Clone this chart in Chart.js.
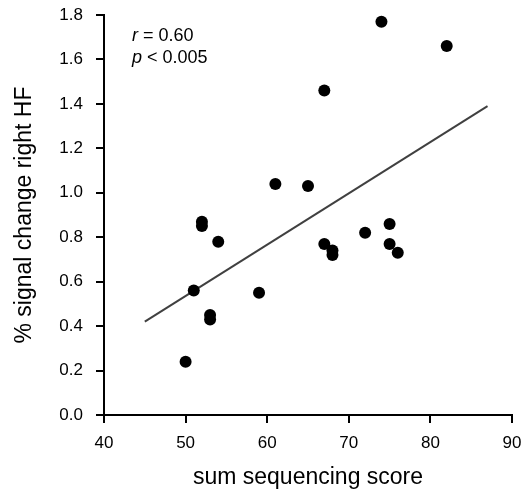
<!DOCTYPE html>
<html>
<head>
<meta charset="utf-8">
<script src="https://cdn.jsdelivr.net/npm/chart.js@4"></script>
<style>
  html, body { margin: 0; padding: 0; background: #fff; }
  #wrap { width: 525px; height: 492px; }
</style>
</head>
<body>
<div id="wrap"><canvas id="c" width="525" height="492"></canvas></div>
<script>
// Data
const sequencingScore = [50, 51, 52, 52, 53, 53, 54, 59, 61, 65, 67, 67, 68, 68, 72, 74, 75, 75, 76, 82];
const signalChange    = [0.24, 0.56, 0.87, 0.85, 0.45, 0.43, 0.78, 0.55, 1.04, 1.03, 1.46, 0.77, 0.74, 0.72, 0.82, 1.77, 0.86, 0.77, 0.73, 1.66];
const fitLineX = [45, 87];
const fitLineY = [0.42, 1.39];
const xTickValues = [40, 50, 60, 70, 80, 90];
const yTickValues = [0.0, 0.2, 0.4, 0.6, 0.8, 1.0, 1.2, 1.4, 1.6, 1.8];
const statLabels = [['r', ' = 0.60'], ['p', ' < 0.005']];
const xTitle = 'sum sequencing score';
const yTitle = '% signal change right HF';

const FONT = "'Liberation Sans', Arial, Helvetica, sans-serif";
Chart.defaults.font.family = FONT;
Chart.defaults.color = '#000';

const statsPlugin = {
  id: 'stats',
  afterDraw(chart) {
    const { ctx, chartArea } = chart;
    ctx.save();
    ctx.fillStyle = '#000';
    ctx.textBaseline = 'alphabetic';
    const x0 = chartArea.left + 28;
    statLabels.forEach((parts, i) => {
      const y = chartArea.top + 26 + i * 22;
      ctx.font = 'italic 18px ' + FONT;
      ctx.fillText(parts[0], x0, y);
      const w = ctx.measureText(parts[0]).width;
      ctx.font = '18px ' + FONT;
      ctx.fillText(parts[1], x0 + w, y);
    });
    ctx.restore();
  }
};

function zeroPad(s) { s.paddingTop = 0; s.paddingBottom = 0; s.paddingLeft = 0; s.paddingRight = 0; }

new Chart(document.getElementById('c'), {
  type: 'scatter',
  data: {
    datasets: [
      {
        label: 'subjects',
        data: sequencingScore.map((x, i) => ({ x, y: signalChange[i] })),
        backgroundColor: '#000',
        borderWidth: 0,
        pointRadius: 6,
        pointHoverRadius: 6
      },
      {
        type: 'line',
        label: 'fit',
        data: fitLineX.map((x, i) => ({ x, y: fitLineY[i] })),
        borderColor: '#404040',
        borderWidth: 2,
        pointRadius: 0,
        fill: false
      }
    ]
  },
  options: {
    responsive: false,
    animation: false,
    events: [],
    layout: { padding: { top: 15, right: 13, left: 0, bottom: 0 } },
    plugins: { legend: { display: false }, tooltip: { enabled: false } },
    scales: {
      x: {
        type: 'linear',
        min: 40, max: 90,
        afterBuildTicks: s => { s.ticks = xTickValues.map(v => ({ value: v })); },
        afterFit: s => { s.height = 77; zeroPad(s); },
        ticks: { font: { size: 17 }, color: '#000', padding: 10, maxRotation: 0 },
        grid: { display: true, drawOnChartArea: false, drawTicks: true, tickLength: 8, color: '#000', lineWidth: 2 },
        border: { display: true, color: '#000', width: 2 },
        title: { display: true, text: xTitle, font: { size: 23 }, color: '#000', padding: { top: 0, bottom: 1 } }
      },
      y: {
        type: 'linear',
        min: 0, max: 1.8,
        afterBuildTicks: s => { s.ticks = yTickValues.map(v => ({ value: v })); },
        afterFit: s => { s.width = 104; zeroPad(s); },
        ticks: { font: { size: 17 }, color: '#000', padding: 13, callback: v => Number(v).toFixed(1) },
        grid: { display: true, drawOnChartArea: false, drawTicks: true, tickLength: 8, color: '#000', lineWidth: 2 },
        border: { display: true, color: '#000', width: 2 },
        title: { display: true, text: yTitle, font: { size: 23 }, color: '#000', padding: { top: 11, bottom: 0 } }
      }
    }
  },
  plugins: [statsPlugin]
});
</script>
</body>
</html>
